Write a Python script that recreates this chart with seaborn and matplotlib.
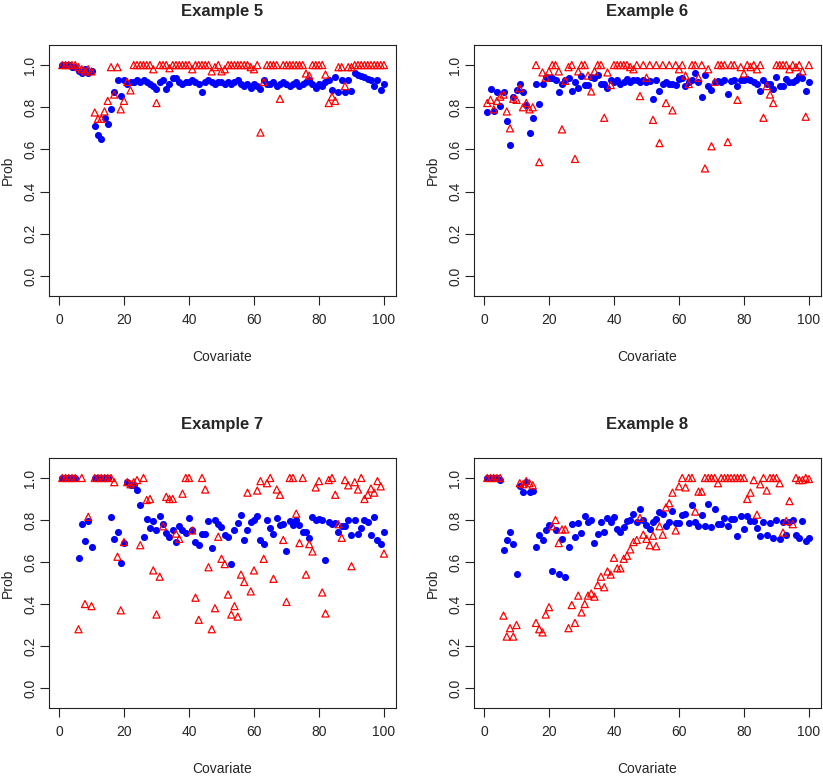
import matplotlib
matplotlib.use("Agg")
import matplotlib.pyplot as plt
import numpy as np
import pandas as pd
import seaborn as sns

# covariate index shared by all four panels
covariate = list(range(1, 101))

ex5_blue = [
    1.00, 1.00, 1.00, 0.99, 0.99, 0.97, 0.96, 0.98, 0.96, 0.97,
    0.71, 0.67, 0.65, 0.75, 0.72, 0.79, 0.87, 0.93, 0.855, 0.93,
    0.91, 0.92, 0.92, 0.93, 0.92, 0.93, 0.92, 0.91, 0.90, 0.885,
    0.92, 0.93, 0.885, 0.91, 0.94, 0.94, 0.92, 0.91, 0.92, 0.92,
    0.93, 0.92, 0.91, 0.87, 0.92, 0.93, 0.92, 0.91, 0.92, 0.92,
    0.91, 0.92, 0.91, 0.92, 0.93, 0.91, 0.90, 0.91, 0.89, 0.91,
    0.90, 0.885, 0.93, 0.91, 0.91, 0.92, 0.90, 0.91, 0.92, 0.91,
    0.90, 0.91, 0.92, 0.90, 0.91, 0.92, 0.93, 0.91, 0.89, 0.91,
    0.90, 0.92, 0.93, 0.88, 0.945, 0.87, 0.93, 0.87, 0.93, 0.875,
    0.96, 0.955, 0.95, 0.945, 0.935, 0.93, 0.90, 0.93, 0.88, 0.91,
]
ex5_red = [
    1.00, 1.00, 1.00, 1.00, 1.00, 0.99, 0.98, 0.97, 0.98, 0.97,
    0.775, 0.745, 0.745, 0.78, 0.83, 0.99, 0.86, 0.99, 0.79, 0.83,
    0.92, 0.88, 1.00, 1.00, 1.00, 1.00, 1.00, 1.00, 0.98, 0.82,
    1.00, 1.00, 1.00, 0.985, 1.00, 1.00, 1.00, 1.00, 1.00, 1.00,
    0.98, 1.00, 1.00, 1.00, 1.00, 1.00, 0.97, 0.99, 1.00, 0.97,
    0.98, 1.00, 1.00, 1.00, 1.00, 1.00, 1.00, 1.00, 0.99, 0.98,
    1.00, 0.68, 0.92, 1.00, 1.00, 1.00, 1.00, 0.84, 1.00, 1.00,
    1.00, 1.00, 1.00, 1.00, 1.00, 0.96, 0.95, 1.00, 1.00, 1.00,
    1.00, 0.955, 0.82, 0.85, 0.83, 0.99, 0.99, 0.90, 0.99, 0.99,
    1.00, 1.00, 1.00, 1.00, 1.00, 1.00, 1.00, 1.00, 1.00, 1.00,
]

ex6_blue = [
    0.775, 0.887, 0.78, 0.87, 0.806, 0.87, 0.737, 0.62, 0.85, 0.88,
    0.91, 0.87, 0.81, 0.68, 0.75, 0.91, 0.815, 0.91, 0.945, 0.94,
    0.94, 0.93, 0.87, 0.91, 0.93, 0.94, 0.875, 0.92, 0.89, 0.95,
    0.905, 0.905, 0.945, 0.94, 0.955, 0.91, 0.91, 0.89, 0.93, 0.92,
    0.93, 0.91, 0.92, 0.935, 0.92, 0.93, 0.93, 0.92, 0.93, 0.92,
    0.925, 0.84, 0.93, 0.875, 0.91, 0.92, 0.91, 0.91, 0.905, 0.935,
    0.94, 0.90, 0.92, 0.93, 0.96, 0.92, 0.85, 0.955, 0.90, 0.88,
    0.92, 0.925, 0.92, 0.93, 0.865, 0.925, 0.93, 0.90, 0.93, 0.93,
    0.935, 0.93, 0.92, 0.91, 0.875, 0.93, 0.91, 0.91, 0.885, 0.945,
    0.90, 0.90, 0.935, 0.92, 0.92, 0.93, 0.95, 0.94, 0.875, 0.92,
]
ex6_red = [
    0.82, 0.835, 0.79, 0.83, 0.85, 0.86, 0.78, 0.70, 0.84, 0.835,
    0.89, 0.80, 0.82, 0.79, 0.80, 1.00, 0.54, 0.965, 0.94, 0.97,
    1.00, 1.00, 0.97, 0.695, 0.925, 0.99, 1.00, 0.555, 0.97, 1.00,
    1.00, 0.95, 0.875, 0.97, 1.00, 1.00, 0.75, 0.965, 0.905, 1.00,
    1.00, 1.00, 1.00, 1.00, 0.99, 0.98, 1.00, 0.853, 1.00, 0.94,
    1.00, 0.74, 1.00, 0.63, 1.00, 0.82, 1.00, 0.785, 1.00, 0.98,
    1.00, 0.95, 0.91, 1.00, 1.00, 0.94, 1.00, 0.51, 0.98, 0.615,
    0.92, 1.00, 1.00, 1.00, 0.635, 1.00, 1.00, 0.835, 0.99, 0.96,
    1.00, 0.99, 1.00, 0.98, 1.00, 0.75, 0.90, 0.86, 0.82, 1.00,
    1.00, 1.00, 1.00, 0.98, 1.00, 0.99, 1.00, 0.97, 0.755, 1.00,
]

ex7_blue = [
    1.00, 1.00, 1.00, 1.00, 1.00, 0.617, 0.78, 0.70, 0.795, 0.67,
    1.00, 1.00, 1.00, 1.00, 1.00, 0.815, 0.71, 0.745, 0.595, 0.69,
    0.98, 0.965, 0.965, 0.945, 0.87, 0.72, 0.805, 0.76, 0.795, 0.75,
    0.82, 0.78, 0.74, 0.72, 0.75, 0.695, 0.77, 0.75, 0.74, 0.81,
    0.75, 0.695, 0.68, 0.735, 0.735, 0.795, 0.665, 0.80, 0.78, 0.765,
    0.73, 0.72, 0.59, 0.75, 0.785, 0.825, 0.705, 0.75, 0.79, 0.80,
    0.82, 0.705, 0.685, 0.80, 0.76, 0.735, 0.81, 0.775, 0.78, 0.65,
    0.795, 0.775, 0.80, 0.775, 0.745, 0.745, 0.715, 0.815, 0.80, 0.805,
    0.80, 0.61, 0.79, 0.78, 0.785, 0.745, 0.77, 0.77, 0.80, 0.73,
    0.80, 0.735, 0.76, 0.80, 0.79, 0.73, 0.815, 0.705, 0.685, 0.745,
]
ex7_red = [
    1.00, 1.00, 1.00, 1.00, 1.00, 0.28, 1.00, 0.40, 0.815, 0.39,
    1.00, 1.00, 1.00, 1.00, 1.00, 1.00, 0.98, 0.625, 0.37, 0.695,
    0.98, 0.97, 0.98, 0.99, 0.68, 1.00, 0.895, 0.90, 0.56, 0.35,
    0.53, 0.77, 0.91, 0.90, 0.90, 0.735, 0.71, 0.925, 1.00, 1.00,
    0.75, 0.43, 0.325, 1.00, 0.945, 0.575, 0.28, 0.38, 0.72, 0.615,
    0.59, 0.445, 0.35, 0.39, 0.34, 0.54, 0.505, 0.93, 0.46, 0.56,
    0.94, 0.985, 0.615, 0.975, 1.00, 0.52, 0.945, 0.92, 0.705, 0.41,
    1.00, 1.00, 0.83, 0.69, 1.00, 0.54, 0.685, 0.65, 0.955, 0.985,
    0.455, 0.355, 0.99, 1.00, 0.92, 0.78, 0.715, 0.99, 0.965, 0.58,
    0.98, 0.945, 1.00, 0.90, 0.92, 0.95, 0.93, 0.985, 0.96, 0.64,
]

ex8_blue = [
    1.00, 1.00, 1.00, 1.00, 0.99, 0.655, 0.705, 0.745, 0.685, 0.545,
    0.96, 0.935, 0.98, 0.935, 0.94, 0.67, 0.73, 0.705, 0.75, 0.775,
    0.555, 0.75, 0.545, 0.71, 0.53, 0.67, 0.78, 0.72, 0.785, 0.74,
    0.82, 0.79, 0.80, 0.69, 0.735, 0.79, 0.745, 0.81, 0.79, 0.815,
    0.755, 0.745, 0.765, 0.795, 0.80, 0.83, 0.79, 0.85, 0.80, 0.775,
    0.757, 0.79, 0.805, 0.84, 0.83, 0.77, 0.79, 0.845, 0.785, 0.785,
    0.825, 0.83, 0.785, 0.87, 0.79, 0.77, 0.825, 0.77, 0.875, 0.765,
    0.85, 0.78, 0.78, 0.81, 0.77, 0.805, 0.805, 0.725, 0.82, 0.755,
    0.82, 0.795, 0.795, 0.76, 0.725, 0.79, 0.73, 0.785, 0.715, 0.80,
    0.71, 0.79, 0.73, 0.79, 0.80, 0.73, 0.715, 0.795, 0.70, 0.715,
]
ex8_red = [
    1.00, 1.00, 1.00, 1.00, 1.00, 0.345, 0.245, 0.285, 0.245, 0.30,
    0.975, 0.97, 0.985, 0.975, 0.965, 0.31, 0.28, 0.265, 0.35, 0.385,
    0.77, 0.80, 0.69, 0.755, 0.755, 0.285, 0.395, 0.31, 0.44, 0.36,
    0.40, 0.44, 0.45, 0.435, 0.49, 0.53, 0.48, 0.555, 0.54, 0.62,
    0.57, 0.57, 0.615, 0.63, 0.66, 0.695, 0.705, 0.81, 0.73, 0.71,
    0.68, 0.725, 0.675, 0.77, 0.73, 0.86, 0.88, 0.93, 0.75, 0.96,
    1.00, 0.955, 1.00, 1.00, 0.84, 0.935, 0.935, 1.00, 1.00, 1.00,
    1.00, 0.975, 1.00, 1.00, 1.00, 1.00, 1.00, 1.00, 1.00, 1.00,
    0.90, 0.93, 0.99, 0.825, 0.97, 1.00, 0.94, 1.00, 1.00, 1.00,
    0.975, 0.74, 0.795, 0.89, 0.78, 1.00, 0.99, 0.99, 1.00, 0.995,
]

titles = ["Example 5", "Example 6", "Example 7", "Example 8"]
x_ticks = [0, 20, 40, 60, 80, 100]
y_ticks = [0.0, 0.2, 0.4, 0.6, 0.8, 1.0]

W, H = 823, 777
# axes boxes in pixels: left, top, width, height
boxes = [(49, 45, 347, 251), (474, 45, 347, 251),
         (49, 458, 347, 250), (474, 458, 347, 250)]

sns.set_style("white")
plt.rcParams["font.family"] = ["Liberation Sans Narrow", "Liberation Sans", "DejaVu Sans"]
plt.rcParams["font.size"] = 10

fig = plt.figure(figsize=(W / 100, H / 100), dpi=100)
fig.patch.set_facecolor("white")

series = [(ex5_blue, ex5_red), (ex6_blue, ex6_red),
          (ex7_blue, ex7_red), (ex8_blue, ex8_red)]

for (blue, red), title, (l, t, w, h) in zip(series, titles, boxes):
    assert len(blue) == 100 and len(red) == 100
    ax = fig.add_axes([l / W, 1 - (t + h) / H, w / W, h / H])
    df = pd.DataFrame({"Covariate": covariate, "blue": blue, "red": red})
    sns.scatterplot(data=df, x="Covariate", y="blue", ax=ax, color="#0000FF",
                    marker="o", s=26, linewidth=0)
    sns.scatterplot(data=df, x="Covariate", y="red", ax=ax, marker="^", s=26,
                    facecolor="none", edgecolor="#FF0000", linewidth=0.9)
    ax.set_xlim(-3.08, 103.7)
    ax.set_ylim(-0.095, 1.095)
    ax.set_xticks(x_ticks)
    ax.set_yticks(y_ticks)
    ax.set_yticklabels([f"{v:.1f}" for v in y_ticks])
    ax.tick_params(axis="both", direction="out", length=6.5, width=0.8,
                   color="#222222", labelsize=10, bottom=True, left=True)
    ax.tick_params(axis="x", pad=6)
    ax.tick_params(axis="y", pad=2, labelrotation=90)
    for lbl in ax.get_yticklabels():
        lbl.set_va("center")
    for sp in ax.spines.values():
        sp.set_visible(True)
        sp.set_color("#222222")
        sp.set_linewidth(0.8)
    ax.set_xlabel("Covariate", fontsize=10)
    ax.set_ylabel("Prob", fontsize=10)
    ax.xaxis.set_label_coords(0.5, -0.215)
    ax.yaxis.set_label_coords(-0.098, 0.5)
    ax.set_title(title, fontsize=12, fontweight="bold", pad=21)

fig.savefig("out.png", dpi=100, facecolor="white")
